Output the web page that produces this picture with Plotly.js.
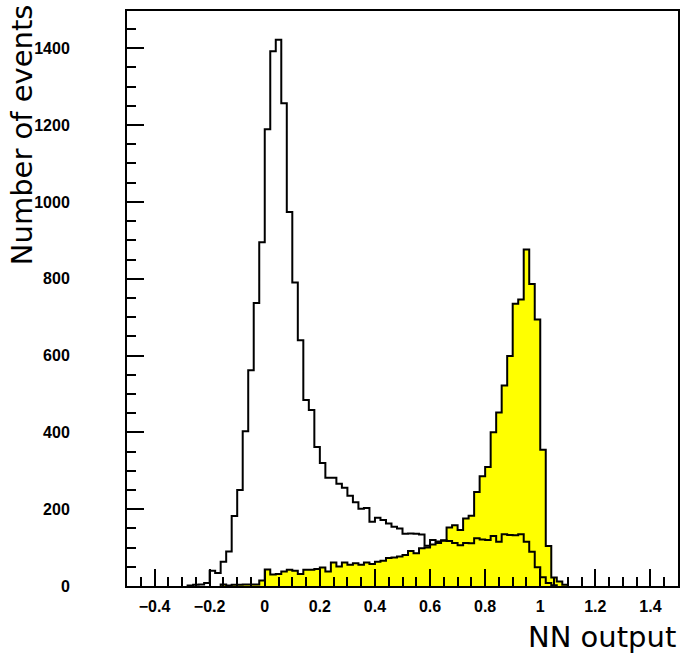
<!DOCTYPE html>
<html>
<head>
<meta charset="utf-8">
<script src="https://cdn.plot.ly/plotly-3.0.1.min.js"></script>
<style>
  html, body { margin: 0; padding: 0; background: #fff; }
  #chart { width: 681px; height: 657px; }
</style>
</head>
<body>
<div id="chart"></div>
<script>
// Histogram bin width (NN output units)
const binWidth = 0.02;

// Background sample (unfilled histogram): first bin lower edge and counts per bin
const bgStart = -0.28;
const bgCounts = [
  1, 3, 4, 8, 40, 34, 63, 90, 182, 250, 403, 562, 737, 895,
  1189, 1392, 1422, 1257, 974, 790, 640, 484, 458, 362,
  320, 282, 282, 266, 256, 235, 218, 201, 203, 167,
  178, 172, 163, 154, 150, 136, 137, 136, 134, 105,
  120, 116, 119, 117, 112, 106, 112, 111, 124, 121,
  120, 130, 115, 135, 133, 132, 135, 115, 89, 49,
  23, 8, 2
];

// Signal sample (yellow filled histogram)
const sigStart = -0.16;
const sigCounts = [
  4, 1, 3, 3, 4, 4, 4, 14,
  43, 30, 31, 38, 42, 40, 31, 42, 42, 44,
  48, 38, 61, 51, 61, 55, 59, 55, 61, 57,
  63, 66, 73, 74, 77, 81, 91, 85, 98, 100,
  108, 112, 118, 152, 158, 146, 176, 183, 245, 286,
  310, 400, 452, 522, 599, 735, 746, 876, 786, 694,
  355, 104, 22, 12, 3
];

// Axis labels
const xTitle = "NN output";
const yTitle = "Number of events";

function stepXY(start, counts) {
  const x = [start], y = [0];
  counts.forEach(function (c, i) {
    x.push(+(start + i * binWidth).toFixed(4));
    y.push(c);
  });
  const end = +(start + counts.length * binWidth).toFixed(4);
  x.push(end); y.push(counts[counts.length - 1]);
  x.push(end); y.push(0);
  return { x: x, y: y };
}

const sig = stepXY(sigStart, sigCounts);
const bg = stepXY(bgStart, bgCounts);

const traces = [
  {
    type: "scatter", mode: "lines",
    x: sig.x, y: sig.y,
    line: { shape: "hv", color: "black", width: 2 },
    fill: "tozeroy", fillcolor: "#ffff00",
    hoverinfo: "skip", name: "signal"
  },
  {
    type: "scatter", mode: "lines",
    x: bg.x, y: bg.y,
    line: { shape: "hv", color: "black", width: 2 },
    hoverinfo: "skip", name: "background"
  }
];

const axisCommon = {
  ticks: "inside", tickcolor: "black", tickwidth: 2,
  showline: true, linecolor: "black", linewidth: 2, mirror: true,
  showgrid: false, zeroline: false,
  tickfont: { family: "Liberation Sans, Arial, sans-serif", size: 16, weight: "bold", color: "black" }
};

const layout = {
  width: 681, height: 657,
  margin: { l: 127, r: 3, t: 11, b: 71, pad: 0 },
  paper_bgcolor: "white", plot_bgcolor: "white",
  showlegend: false,
  xaxis: Object.assign({}, axisCommon, {
    range: [-0.5, 1.5], tick0: 0, dtick: 0.2, ticklen: 17,
    ticklabelstandoff: 5,
    minor: { dtick: 0.05, ticks: "inside", ticklen: 9, tickwidth: 2, tickcolor: "black", showgrid: false }
  }),
  yaxis: Object.assign({}, axisCommon, {
    range: [0, 1497], tick0: 0, dtick: 200, ticklen: 17,
    ticklabelstandoff: 52,
    minor: { dtick: 50, ticks: "inside", ticklen: 9, tickwidth: 2, tickcolor: "black", showgrid: false }
  }),
  annotations: [
    {
      text: xTitle, xref: "paper", yref: "paper",
      x: 1.0, y: -0.089, xanchor: "right", yanchor: "middle",
      showarrow: false,
      font: { family: "DejaVu Sans, sans-serif", size: 29, color: "black" }
    },
    {
      text: yTitle, xref: "paper", yref: "paper",
      x: -0.19, y: 1.015, xanchor: "center", yanchor: "top",
      textangle: -90, showarrow: false,
      font: { family: "DejaVu Sans, sans-serif", size: 29, color: "black" }
    }
  ]
};

Plotly.newPlot("chart", traces, layout, { staticPlot: true, displayModeBar: false });
</script>
</body>
</html>
